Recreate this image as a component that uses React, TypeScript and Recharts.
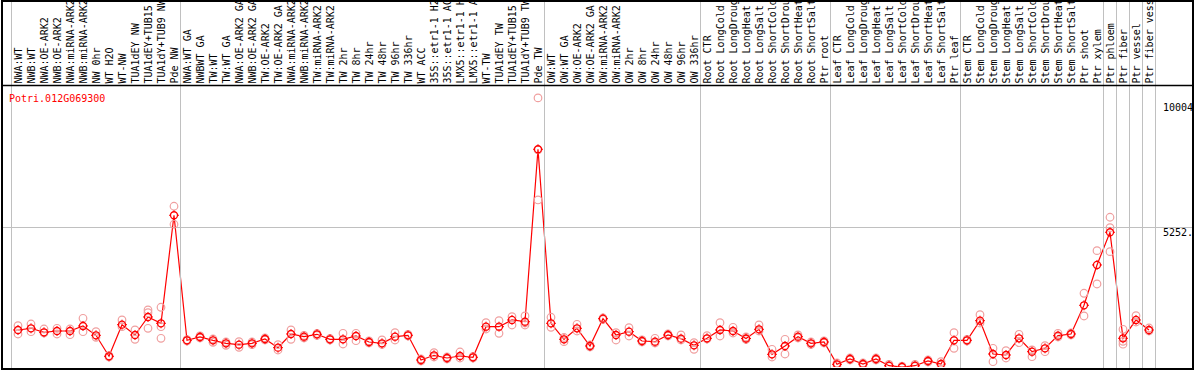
import { ComposedChart, Line, ReferenceLine, XAxis, YAxis } from "recharts";

const categories = [
  "NWA:WT", "NWB:WT", "NWA:OE-ARK2", "NWB:OE-ARK2", "NWA:miRNA-ARK2", "NWB:miRNA-ARK2",
  "NW 0hr", "WT H2O", "WT-NW", "TUA1dEY NW", "TUA1dEY+TUB15 NW", "TUA1dY+TUB9 NW", "Pde NW",
  "NWA:WT GA", "NWBWT GA", "TW:WT", "TW:WT GA", "NWA:OE-ARK2 GA", "NWB:OE-ARK2 GA",
  "TW:OE-ARK2", "TW:OE-ARK2 GA", "NWA:miRNA-ARK2", "NWB:miRNA-ARK2", "TW:miRNA-ARK2",
  "TW:miRNA-ARK2", "TW 2hr", "TW 8hr", "TW 24hr", "TW 48hr", "TW 96hr", "TW 336hr", "WT ACC",
  "35S::etr1-1 H2O", "35S::etr1-1 ACC", "LMX5::etr1-1 H2O", "LMX5::etr1-1 ACC", "WT-TW",
  "TUA1dEY TW", "TUA1dEY+TUB15 TW", "TUA1dY+TUB9 TW", "Pde TW",
  "OW:WT", "OW:WT GA", "OW:OE-ARK2", "OW:OE-ARK2 GA", "OW:miRNA-ARK2", "OW:miRNA-ARK2",
  "OW 2hr", "OW 8hr", "OW 24hr", "OW 48hr", "OW 96hr", "OW 336hr",
  "Root CTR", "Root LongCold", "Root LongDrought", "Root LongHeat", "Root LongSalt",
  "Root ShortCold", "Root ShortDrought", "Root ShortHeat", "Root ShortSalt", "Ptr root",
  "Leaf CTR", "Leaf LongCold", "Leaf LongDrought", "Leaf LongHeat", "Leaf LongSalt",
  "Leaf ShortCold", "Leaf ShortDrought", "Leaf ShortHeat", "Leaf ShortSalt", "Ptr leaf",
  "Stem CTR", "Stem LongCold", "Stem LongDrought", "Stem LongHeat", "Stem LongSalt",
  "Stem ShortCold", "Stem ShortDrought", "Stem ShortHeat", "Stem ShortSalt", "Ptr shoot",
  "Ptr xylem", "Ptr phloem", "Ptr fiber", "Ptr vessel", "Ptr fiber vessel",
];

const meanValues = [
  1399, 1463, 1312, 1361, 1361, 1550, 1198, 404, 1599, 1210, 1890, 1652, 5734,
  1009, 1134, 1009, 896, 843, 896, 1058, 730, 1247, 1145, 1236, 1047, 1047, 1172, 945, 896,
  1145, 1198, 265, 442, 340, 416, 367, 1523, 1523, 1777, 1712, 8229,
  1652, 1047, 1463, 794, 1826, 1210, 1334, 983, 956, 1210, 1070, 820,
  1085, 1399, 1361, 1077, 1425, 480, 794, 1145, 896, 945,
  102, 302, 113, 302, 49, 0, 49, 227, 113, 1009,
  1009, 1750, 491, 454, 1085, 578, 707, 1183, 1247, 2332,
  3856, 5092, 1085, 1777, 1399,
];

const repHigh = [
  1561, 1625, 1436, 1463, 1436, 1841, 1334, 427, 1777, 1399, 2155, 2257, 6074,
  1032, 1172, 1058, 945, 956, 945, 1096, 843, 1399, 1191, 1266, 1077, 1274, 1274, 983, 1021,
  1297, 1229, 302, 541, 378, 567, 397, 1675, 1750, 1901, 1928, 10168,
  1879, 1115, 1614, 832, 1852, 1297, 1486, 1021, 1085, 1247, 1210, 919,
  1183, 1675, 1501, 1134, 1588, 669, 1047, 1210, 945, 983,
  151, 340, 151, 340, 95, 30, 95, 265, 200, 1297,
  1040, 1977, 707, 616, 1236, 643, 805, 1274, 1285, 2786,
  4396, 5659, 1425, 1939, 1474,
];

const repLow = [
  1247, 1334, 1285, 1247, 1221, 1334, 1123, 378, 1523, 1047, 1463, 1085, 5394,
  983, 1096, 934, 820, 745, 843, 1021, 643, 1047, 1096, 1191, 1021, 869, 994, 907, 850,
  1021, 1172, 227, 378, 302, 340, 340, 1436, 1274, 1588, 1588, 6313,
  1501, 956, 1361, 756, 1796, 1021, 1172, 945, 907, 1172, 1021, 669,
  1058, 1172, 1285, 1040, 1361, 378, 491, 1096, 850, 907,
  57, 265, 76, 265, 19, 0, 19, 189, 76, 707,
  983, 1663, 200, 340, 919, 389, 578, 1134, 1210, 1928,
  3137, 4358, 861, 1701, 1361,
];

// third replicate, only where it shows apart from the mean
const repExtra: (number | null)[] = categories.map(() => null);
repExtra[10] = 2052;
repExtra[11] = 1523;
repExtra[39] = 1663;
repExtra[40] = 8206;
repExtra[84] = 5266;
repExtra[85] = 969;

const yTicks = [0, 5252.5, 10004];
const groupEnds = [12, 40, 52, 62, 72, 83, 84, 85, 86, 87];

const data = categories.map((name, i) => ({
  key: `c${i}`,
  name,
  mean: meanValues[i],
  r1: repHigh[i],
  r2: repLow[i],
  r3: repExtra[i],
}));

const FONT = "DejaVu Sans Mono, monospace";
const GRID = "#c0c0c0";

function CategoryTick(props: any) {
  const { x, payload } = props;
  const index = payload?.index ?? props.index;
  const half = payload?.offset || 6.5;
  return (
    <g>
      {index === 0 && (
        <line x1={x - half} x2={x - half} y1={0} y2={370} stroke={GRID} />
      )}
      {groupEnds.includes(index) && (
        <line x1={x + half} x2={x + half} y1={0} y2={370} stroke={GRID} />
      )}
      <text
        transform={`translate(${x + 3.5},83.5) rotate(-90)`}
        fontFamily={FONT}
        fontSize={10}
        fill="#000"
      >
        {categories[index]}
      </text>
    </g>
  );
}

function ValueTick(props: any) {
  const { y, payload } = props;
  const label = String(payload.value).slice(0, 5);
  const dy = payload.value === 0 ? -2 : 8.3;
  return (
    <text x={1163} y={y + dy} fontFamily={FONT} fontSize={10} fill="#000">
      {label}
    </text>
  );
}

function MeanDot(props: any) {
  const { cx, cy, index } = props;
  if (cy == null || cx == null) return <g key={`m${index}`} />;
  return (
    <g key={`m${index}`}>
      <circle cx={cx} cy={cy} r={3.5} fill="none" stroke="#ff0000" strokeWidth={1.3} />
      <path
        d={`M${cx},${cy - 5} v1.5 M${cx},${cy + 3.5} v1.5 M${cx - 5},${cy} h1.5 M${cx + 3.5},${cy} h1.5`}
        stroke="#ff0000"
        strokeWidth={1}
      />
    </g>
  );
}

function RepDot(props: any) {
  const { cx, cy, index, dataKey } = props;
  if (cy == null || cx == null) return <g key={`${dataKey}${index}`} />;
  return (
    <circle
      key={`${dataKey}${index}`}
      cx={cx}
      cy={cy}
      r={3.8}
      fill="none"
      stroke="#f0a0a0"
      strokeWidth={1.2}
    />
  );
}

export default function App() {
  return (
    <div style={{ position: "absolute", left: 0, top: 0, width: 1194, height: 370, background: "#fff" }}>
      <ComposedChart
        width={1194}
        height={370}
        data={data}
        margin={{ top: 0, right: 0, bottom: 3, left: 11.5 }}
      >
        <XAxis
          dataKey="key"
          orientation="top"
          scale="band"
          height={85}
          interval={0}
          axisLine={false}
          tickLine={false}
          tick={CategoryTick}
        />
        <YAxis
          orientation="right"
          width={38.5}
          domain={[0, 10656]}
          allowDataOverflow
          ticks={yTicks}
          axisLine={false}
          tickLine={false}
          tick={ValueTick}
        />
        <ReferenceLine
          y={5252.5}
          stroke={GRID}
          ifOverflow="visible"
          shape={(p: any) => {
            const yy = Math.floor(p.y1) + 0.5;
            return <line x1={2} x2={1192} y1={yy} y2={yy} stroke={GRID} strokeWidth={1} />;
          }}
        />
        <Line dataKey="r1" stroke="none" dot={RepDot} activeDot={false} isAnimationActive={false} />
        <Line dataKey="r2" stroke="none" dot={RepDot} activeDot={false} isAnimationActive={false} />
        <Line dataKey="r3" stroke="none" dot={RepDot} activeDot={false} isAnimationActive={false} />
        <Line
          dataKey="mean"
          type="linear"
          stroke="#ff0000"
          strokeWidth={1.2}
          dot={MeanDot}
          activeDot={false}
          isAnimationActive={false}
        />
      </ComposedChart>
      <svg
        width={1194}
        height={370}
        style={{ position: "absolute", left: 0, top: 0, pointerEvents: "none" }}
      >
        <rect x={2} y={1} width={1191} height={368} fill="none" stroke="#000" strokeWidth={2} />
        <line x1={2} x2={1192} y1={85.5} y2={85.5} stroke="#000" strokeWidth={1.4} />
        <text x={9} y={101.5} fontFamily={FONT} fontSize={10} fill="#ff0000">
          Potri.012G069300
        </text>
      </svg>
    </div>
  );
}
